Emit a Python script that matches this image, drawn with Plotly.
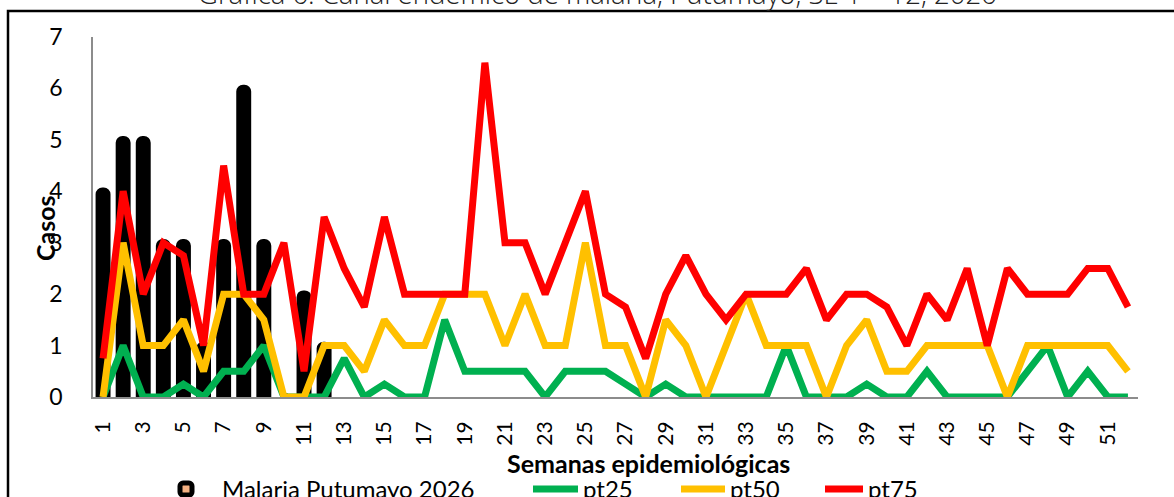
import plotly.graph_objects as go

weeks = list(range(1, 53))
week_labels = [str(w) for w in weeks]
tick_labels = [str(w) for w in range(1, 53, 2)]

malaria_2026 = [4, 5, 5, 3, 3, 1, 3, 6, 3, 0, 2, 1]

pt25 = [0, 1, 0, 0, 0.25, 0, 0.5, 0.5, 1, 0, 0, 0, 0.75, 0, 0.25, 0, 0, 1.5, 0.5, 0.5,
        0.5, 0.5, 0, 0.5, 0.5, 0.5, 0.25, 0, 0.25, 0, 0, 0, 0, 0, 1, 0, 0, 0, 0.25, 0,
        0, 0.5, 0, 0, 0, 0, 0.5, 1, 0, 0.5, 0, 0]

pt50 = [0, 3, 1, 1, 1.5, 0.5, 2, 2, 1.5, 0, 0, 1, 1, 0.5, 1.5, 1, 1, 2, 2, 2,
        1, 2, 1, 1, 3, 1, 1, 0, 1.5, 1, 0, 1, 2, 1, 1, 1, 0, 1, 1.5, 0.5,
        0.5, 1, 1, 1, 1, 0, 1, 1, 1, 1, 1, 0.5]

pt75 = [0.75, 4, 2, 3, 2.75, 1, 4.5, 2, 2, 3, 0.5, 3.5, 2.5, 1.75, 3.5, 2, 2, 2, 2, 6.5,
        3, 3, 2, 3, 4, 2, 1.75, 0.75, 2, 2.75, 2, 1.5, 2, 2, 2, 2.5, 1.5, 2, 2, 1.75,
        1, 2, 1.5, 2.5, 1, 2.5, 2, 2, 2, 2.5, 2.5, 1.75]

title_text = "Gráfica 6. Canal endémico de malaria, Putumayo, SE 1 – 12, 2026"
x_title = "Semanas epidemiológicas"
y_title = "Casos"

W, H = 1174, 497
L, R, T, B = 93, 36, 37, 100
PW, PH = W - L - R, H - T - B


def px_x(p):
    return (p - L) / PW


def px_y(p):
    return (H - B - p) / PH


FONT = "Lato"

fig = go.Figure()
fig.add_trace(go.Bar(
    x=week_labels[:len(malaria_2026)], y=malaria_2026, name="Malaria Putumayo 2026",
    marker=dict(color="#F4B183", line=dict(color="black", width=7.5), cornerradius=3),
    width=0.37, legend="legend",
))
fig.add_trace(go.Scatter(x=week_labels, y=pt25, name="pt25", mode="lines",
                         line=dict(color="#00B050", width=7), legend="legend2"))
fig.add_trace(go.Scatter(x=week_labels, y=pt50, name="pt50", mode="lines",
                         line=dict(color="#FFC000", width=7), legend="legend3"))
fig.add_trace(go.Scatter(x=week_labels, y=pt75, name="pt75", mode="lines",
                         line=dict(color="#FF0000", width=7), legend="legend4"))

LEG_TOP = 467


def leg(x_px, itemwidth):
    return dict(orientation="h", xref="container", yref="container",
                x=x_px / W, y=(H - LEG_TOP) / H, xanchor="left", yanchor="top",
                font=dict(size=24, family=FONT), itemwidth=itemwidth,
                bgcolor="rgba(0,0,0,0)", borderwidth=0)


fig.update_layout(
    width=W, height=H,
    margin=dict(l=L, r=R, t=T, b=B, pad=0, autoexpand=False),
    paper_bgcolor="white", plot_bgcolor="white",
    font=dict(family=FONT, color="black"),
    showlegend=True,
    legend=leg(150, 62),
    legend2=leg(528, 45),
    legend3=leg(676, 44),
    legend4=leg(820, 38),
    xaxis=dict(type="category", categoryorder="array", categoryarray=week_labels,
               range=[-0.5, 51.5], tickmode="array", tickvals=tick_labels,
               ticktext=tick_labels, tickangle=-90, tickfont=dict(size=21, family=FONT),
               showline=True, linecolor="#8c8c8c", linewidth=2, showgrid=False,
               ticks="", ticklabelstandoff=14, zeroline=False, automargin=False),
    yaxis=dict(range=[0, 7], dtick=1, tickfont=dict(size=23, family=FONT),
               showline=True, linecolor="#8c8c8c", linewidth=1.5, showgrid=False,
               ticks="", ticklabelstandoff=24, zeroline=False, automargin=False),
    shapes=[dict(type="rect", xref="paper", yref="paper",
                 x0=px_x(8), x1=px_x(1200), y0=px_y(540), y1=px_y(11),
                 line=dict(color="black", width=2.5), fillcolor="rgba(0,0,0,0)", layer="below")],
    annotations=[
        dict(text=title_text, xref="paper", yref="paper", x=px_x(597), y=px_y(14),
             xanchor="center", yanchor="bottom", showarrow=False,
             font=dict(size=27.5, family="Open Sans", weight=300, color="#222")),
        dict(text="<b>" + y_title + "</b>", xref="paper", yref="paper", x=px_x(45),
             y=px_y(228), xanchor="center", yanchor="middle", textangle=-90,
             showarrow=False, font=dict(size=25, family=FONT)),
        dict(text="<b>" + x_title + "</b>", xref="paper", yref="paper", x=px_x(648),
             y=px_y(463), xanchor="center", yanchor="middle", showarrow=False,
             font=dict(size=25, family=FONT)),
    ],
)

fig.write_html("out.html", config={"displayModeBar": False},
               post_script="document.body.style.margin='0';document.body.style.overflow='hidden';")
